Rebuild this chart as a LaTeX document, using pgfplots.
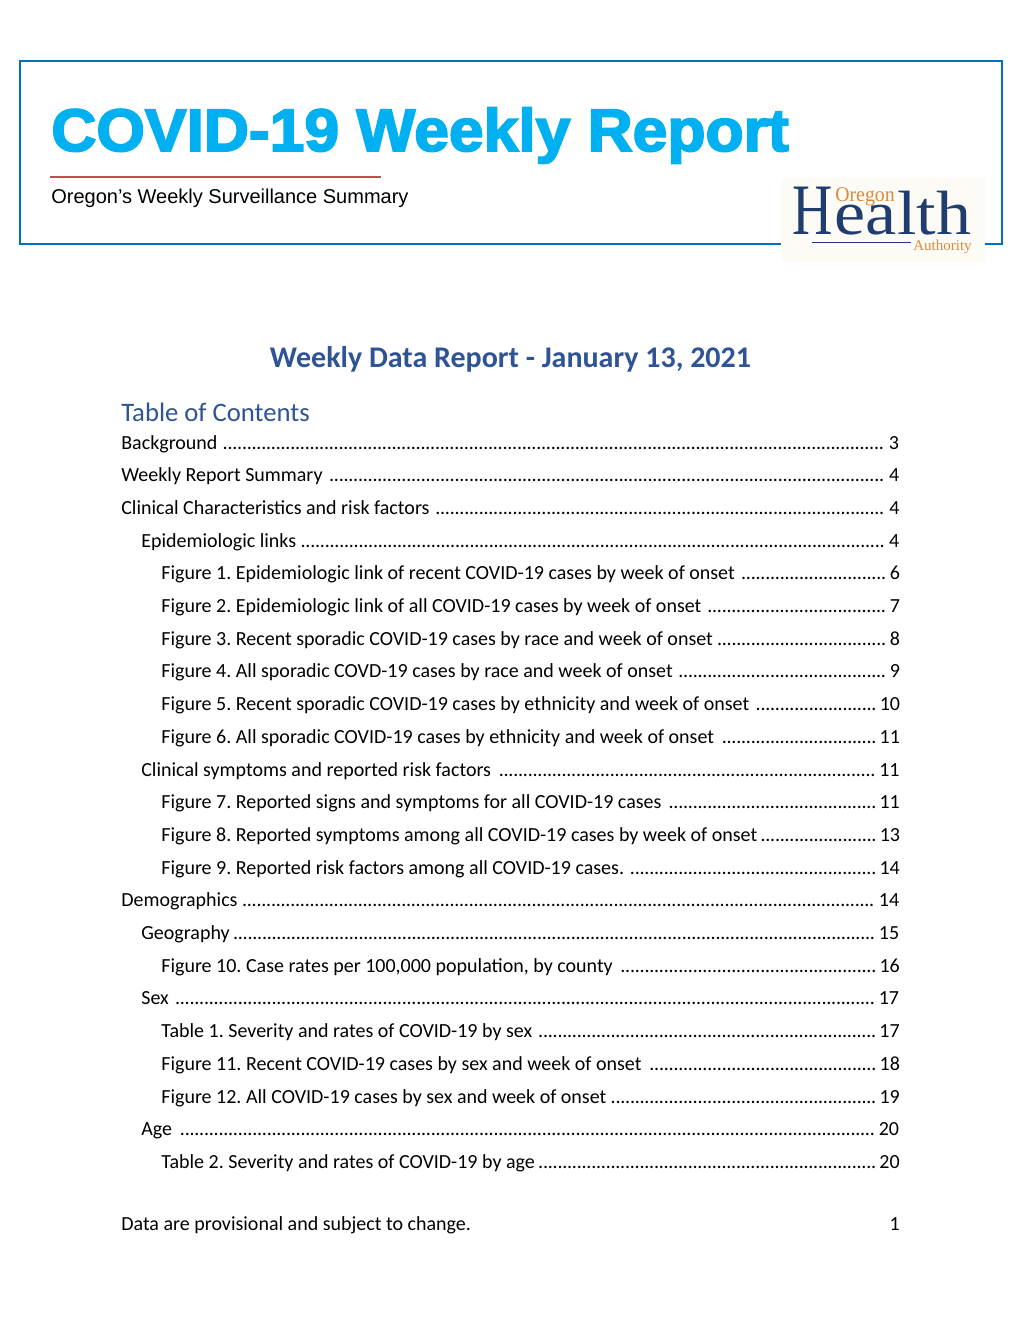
\documentclass[border=0pt]{standalone}
\usepackage{fontspec}
\usepackage{graphicx}
\usepackage{pgfplots}
\pgfplotsset{compat=1.18}
\setmainfont{Carlito}
\newfontfamily\arialf{Liberation Sans}
\newfontfamily\blackf{Liberation Sans Bold}[FakeBold=3]
\newfontfamily\timesf{Liberation Serif}
\definecolor{boxblue}{HTML}{0070C0}
\definecolor{titlecyan}{HTML}{00B0F0}
\definecolor{redline}{HTML}{C0504D}
\definecolor{headblue}{HTML}{2F5496}
\definecolor{logoblue}{HTML}{1F3D6E}
\definecolor{logoorange}{HTML}{E0883A}
\definecolor{logobg}{HTML}{FDFBF5}
\newcommand{\tocline}[5]{%
  \node[anchor=base west, inner sep=0pt, font=\fontsize{12}{14}\selectfont] at (axis cs:#1,#2)
  {\makebox[#3][l]{#4\,\leaders\hbox to 2.9pt{\hss.\hss}\hfill\,#5}};}
\begin{document}
\frenchspacing
\begin{tikzpicture}
\begin{axis}[
  hide axis, scale only axis, width=612pt, height=792pt,
  xmin=0, xmax=1020, ymin=0, ymax=1320, y dir=reverse,
  enlargelimits=false, clip=false]
\fill[white] (axis cs:0,0) rectangle (axis cs:1020,1320);
% header box
\draw[boxblue, line width=1.2pt] (axis cs:781,244) -- (axis cs:20,244) -- (axis cs:20,61) -- (axis cs:1002,61) -- (axis cs:1002,244) -- (axis cs:985,244);
\node[anchor=base west, inner sep=0pt, text=titlecyan] at (axis cs:51,151)
  {\scalebox{1.04}[1]{\fontsize{36}{40}\blackf COVID-19 Weekly Report}};
\draw[redline, line width=0.7pt] (axis cs:50,177) -- (axis cs:381,177);
\node[anchor=base west, inner sep=0pt] at (axis cs:51,203)
  {\fontsize{12}{14}\arialf Oregon’s Weekly Surveillance Summary};
% logo
\fill[logobg] (axis cs:781,178) rectangle (axis cs:985,262);
\draw[logoblue, line width=0.4pt] (axis cs:812,242) -- (axis cs:911,242);
\node[anchor=base west, inner sep=0pt, text=logoblue] at (axis cs:792,234)
  {\timesf
   \rlap{\scalebox{0.77}[1]{\fontsize{43.5}{44}\selectfont H}}%
   \rlap{\kern25.2pt\scalebox{1.12}[1]{\fontsize{37.5}{38}\selectfont ea}}%
   \rlap{\kern63pt\scalebox{1.12}[1]{\fontsize{37.5}{38}\selectfont lth}}%
   \rlap{\kern25.8pt\raisebox{19.8pt}{\color{logoorange}\scalebox{0.95}[1]{\fontsize{12.5}{13}\selectfont Oregon}}}%
   \rlap{\kern72.6pt\raisebox{-9.6pt}{\color{logoorange}\fontsize{9}{10}\selectfont Authority}}%
   \hspace*{108pt}};
% headings
\node[anchor=base, inner sep=0pt, text=headblue] at (axis cs:510.5,367)
  {\fontsize{18}{22}\selectfont\bfseries Weekly Data Report - January 13, 2021};
\node[anchor=base west, inner sep=0pt, text=headblue] at (axis cs:121,421)
  {\fontsize{16}{19}\selectfont Table of Contents};
% TOC
\tocline{121}{449}{467.4pt}{Background}{3}
\tocline{121}{481.7}{467.4pt}{Weekly Report Summary}{4}
\tocline{121}{514.4}{467.4pt}{Clinical Characteristics and risk factors}{4}
\tocline{141}{547.1}{455.4pt}{Epidemiologic links}{4}
\tocline{161}{579.8}{443.4pt}{Figure 1. Epidemiologic link of recent COVID-19 cases by week of onset}{6}
\tocline{161}{612.5}{443.4pt}{Figure 2. Epidemiologic link of all COVID-19 cases by week of onset}{7}
\tocline{161}{645.2}{443.4pt}{Figure 3. Recent sporadic COVID-19 cases by race and week of onset}{8}
\tocline{161}{677.9}{443.4pt}{Figure 4. All sporadic COVD-19 cases by race and week of onset}{9}
\tocline{161}{710.6}{443.4pt}{Figure 5. Recent sporadic COVID-19 cases by ethnicity and week of onset}{10}
\tocline{161}{743.3}{443.4pt}{Figure 6. All sporadic COVID-19 cases by ethnicity and week of onset}{11}
\tocline{141}{776}{455.4pt}{Clinical symptoms and reported risk factors}{11}
\tocline{161}{808.7}{443.4pt}{Figure 7. Reported signs and symptoms for all COVID-19 cases}{11}
\tocline{161}{841.4}{443.4pt}{Figure 8. Reported symptoms among all COVID-19 cases by week of onset}{13}
\tocline{161}{874.1}{443.4pt}{Figure 9. Reported risk factors among all COVID-19 cases.}{14}
\tocline{121}{906.8}{467.4pt}{Demographics}{14}
\tocline{141}{939.5}{455.4pt}{Geography}{15}
\tocline{161}{972.2}{443.4pt}{Figure 10. Case rates per 100,000 population, by county}{16}
\tocline{141}{1004.9}{455.4pt}{Sex}{17}
\tocline{161}{1037.6}{443.4pt}{Table 1. Severity and rates of COVID-19 by sex}{17}
\tocline{161}{1070.3}{443.4pt}{Figure 11. Recent COVID-19 cases by sex and week of onset}{18}
\tocline{161}{1103}{443.4pt}{Figure 12. All COVID-19 cases by sex and week of onset}{19}
\tocline{141}{1135.7}{455.4pt}{Age}{20}
\tocline{161}{1168.4}{443.4pt}{Table 2. Severity and rates of COVID-19 by age}{20}
% footer
\node[anchor=base west, inner sep=0pt, font=\fontsize{12}{14}\selectfont] at (axis cs:121,1230)
  {Data are provisional and subject to change.};
\node[anchor=base east, inner sep=0pt, font=\fontsize{12}{14}\selectfont] at (axis cs:900,1230) {1};
\end{axis}
\end{tikzpicture}
\end{document}
